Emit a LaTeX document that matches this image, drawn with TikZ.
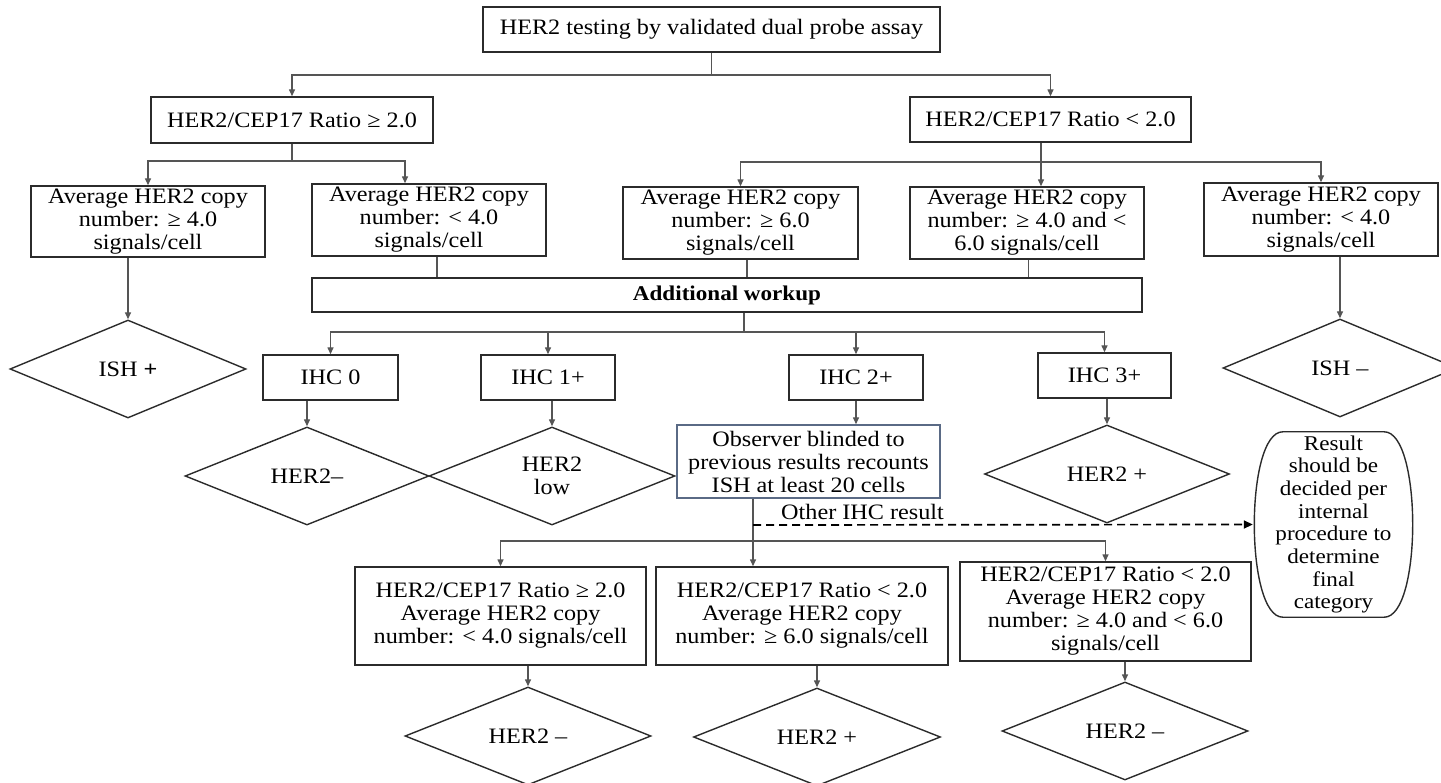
\documentclass[tikz,border=0pt]{standalone}
\usepackage{fontspec}
\setmainfont{Liberation Serif}[FakeStretch=1.1]
\usetikzlibrary{shapes.geometric,arrows.meta}
\definecolor{boxc}{HTML}{2B2B2B}
\definecolor{linec}{HTML}{555555}
\definecolor{obsc}{HTML}{5A6A85}
\begin{document}
\begin{tikzpicture}[x=1pt,y=-1pt,
  font=\fontsize{22}{23}\selectfont,
  box/.style={draw=boxc, line width=1.4pt, inner sep=0pt, align=center},
  dia/.style={draw=boxc, line width=1.4pt, diamond, inner sep=0pt, align=center, aspect=2.5},
  conn/.style={draw=linec, line width=1.4pt},
  arr/.style={conn, -{Triangle[length=7pt,width=6pt]}},
  darr/.style={draw=black, line width=1.7pt, dash pattern=on 8pt off 5pt, -{Triangle[length=9pt,width=8pt]}}]
\useasboundingbox (0,0) rectangle (1441,783);

% level 0-1
\node[box, minimum width=457pt, minimum height=45pt] (top) at (711.5,29.5) {HER2 testing by validated dual probe assay};
\node[box, minimum width=282pt, minimum height=46pt] (r1) at (292,120) {HER2/CEP17 Ratio ≥ 2.0};
\node[box, minimum width=281pt, minimum height=45pt] (r2) at (1050.5,119.5) {HER2/CEP17 Ratio < 2.0};

% level 2
\node[box, minimum width=234pt, minimum height=71pt] (a1) at (148,221.5) {Average HER2 copy\\number: ≥ 4.0\\signals/cell};
\node[box, minimum width=234pt, minimum height=72pt] (a2) at (429,220) {Average HER2 copy\\number: < 4.0\\signals/cell};
\node[box, minimum width=235pt, minimum height=72pt] (a3) at (740.5,223) {Average HER2 copy\\number: ≥ 6.0\\signals/cell};
\node[box, minimum width=234pt, minimum height=72pt] (a4) at (1027,223) {Average HER2 copy\\number: ≥ 4.0 and <\\6.0 signals/cell};
\node[box, minimum width=234pt, minimum height=73pt] (a5) at (1321,219.5) {Average HER2 copy\\number: < 4.0\\signals/cell};

\node[box, minimum width=830pt, minimum height=34pt, font=\fontsize{21}{23}\selectfont\bfseries] (aw) at (727,295) {Additional workup};

\node[dia, minimum width=236pt, minimum height=98pt] (ishp) at (128,369) {ISH \textbf{+}};
\node[dia, minimum width=234pt, minimum height=98pt] (ishm) at (1340,368) {ISH –};

% IHC
\node[box, minimum width=135pt, minimum height=45pt] (ihc0) at (330.5,377.5) {IHC 0};
\node[box, minimum width=134pt, minimum height=45pt] (ihc1) at (548,377.5) {IHC 1+};
\node[box, minimum width=134pt, minimum height=45pt] (ihc2) at (856,377.5) {IHC 2+};
\node[box, minimum width=133pt, minimum height=45pt] (ihc3) at (1104.5,375.5) {IHC 3+};

\node[dia, minimum width=244pt, minimum height=98pt] (hneg) at (307,476) {HER2–};
\node[dia, minimum width=246pt, minimum height=98pt] (hlow) at (552,476) {HER2\\low};
\node[box, draw=obsc, minimum width=263pt, minimum height=73pt] (obs) at (808.5,461.5) {Observer blinded to\\previous results recounts\\ISH at least 20 cells};
\node[dia, minimum width=245pt, minimum height=98pt] (hpos) at (1107,474) {HER2 +};

\node[inner sep=0pt, minimum width=161pt, minimum height=185pt, align=center, font=\fontsize{21}{22.7}\selectfont] (res) at (1333.5,524.5) {Result\\should be\\decided per\\internal\\procedure to\\determine\\final\\category};
\draw[boxc, line width=1.4pt]
  ([xshift=30pt]res.north west) -- ([xshift=-30pt]res.north east)
  .. controls ([xshift=8pt]res.north east) and ([xshift=8pt]res.south east) .. ([xshift=-30pt]res.south east)
  -- ([xshift=30pt]res.south west)
  .. controls ([xshift=-8pt]res.south west) and ([xshift=-8pt]res.north west) .. ([xshift=30pt]res.north west) -- cycle;

% bottom
\node[box, minimum width=291pt, minimum height=98pt] (b1) at (500.5,616) {HER2/CEP17 Ratio ≥ 2.0\\Average HER2 copy\\number: < 4.0 signals/cell};
\node[box, minimum width=292pt, minimum height=98pt] (b2) at (802,616) {HER2/CEP17 Ratio < 2.0\\Average HER2 copy\\number: ≥ 6.0 signals/cell};
\node[box, minimum width=291pt, minimum height=99pt] (b3) at (1105.5,611.5) {HER2/CEP17 Ratio < 2.0\\Average HER2 copy\\number: ≥ 4.0 and < 6.0\\signals/cell};

\node[dia, minimum width=246pt, minimum height=98pt] (d1) at (528,736) {HER2 –};
\node[dia, minimum width=247pt, minimum height=98pt] (d2) at (817,737) {HER2 +};
\node[dia, minimum width=246pt, minimum height=98pt] (d3) at (1125,731) {HER2 –};

% connectors
\coordinate (j0) at (711.5,75);
\draw[conn] (top.south) -- (j0);
\draw[arr] (j0) -| (r1.north);
\draw[arr] (j0) -| (r2.north);

\coordinate (j1) at (292,161);
\draw[conn] (r1.south) -- (j1);
\draw[arr] (j1) -| (a1.north);
\draw[arr] (j1) -| ([xshift=-24pt]a2.north);

\coordinate (j2) at (1041,162);
\draw[arr] ([xshift=-9.5pt]r2.south) -- ([xshift=14pt]a4.north);
\draw[arr] (j2) -| (a3.north);
\draw[arr] (j2) -| (a5.north);

\draw[arr] (a1.south -| ishp.north) -- (ishp.north);
\draw[arr] (a5.south -| ishm.north) -- (ishm.north);

\draw[conn] ([xshift=8pt]a2.south) -- ([xshift=8pt]a2.south |- aw.north);
\draw[conn] ([xshift=6.5pt]a3.south) -- ([xshift=6.5pt]a3.south |- aw.north);
\draw[conn] ([xshift=1.5pt]a4.south) -- ([xshift=1.5pt]a4.south |- aw.north);

\coordinate (j3) at (744,332);
\draw[conn] (aw.south -| j3) -- (j3);
\draw[arr] (j3) -| (ihc0.north);
\draw[arr] (j3) -| (ihc1.north);
\draw[arr] (j3) -| (ihc2.north);
\draw[arr] (j3) -| (ihc3.north);

\draw[arr] (ihc0.south -| hneg.north) -- (hneg.north);
\draw[arr] (ihc1.south -| hlow.north) -- (hlow.north);
\draw[arr] (ihc2.south) -- (ihc2.south |- obs.north);
\draw[arr] (ihc3.south -| hpos.north) -- (hpos.north);

\coordinate (j4) at (753,541);
\draw[arr] (obs.south -| j4) -- (b2.north -| j4);
\draw[arr] (j4) -| (b1.north);
\draw[arr] (j4) -| (b3.north);

\coordinate (jd) at (753,525);
\draw[darr] (jd) -- (res.west);
\node[anchor=south west, inner sep=0pt] (oth) at (781,520) {Other IHC result};

\draw[arr] (b1.south -| d1.north) -- (d1.north);
\draw[arr] (b2.south -| d2.north) -- (d2.north);
\draw[arr] (b3.south -| d3.north) -- (d3.north);
\end{tikzpicture}
\end{document}
